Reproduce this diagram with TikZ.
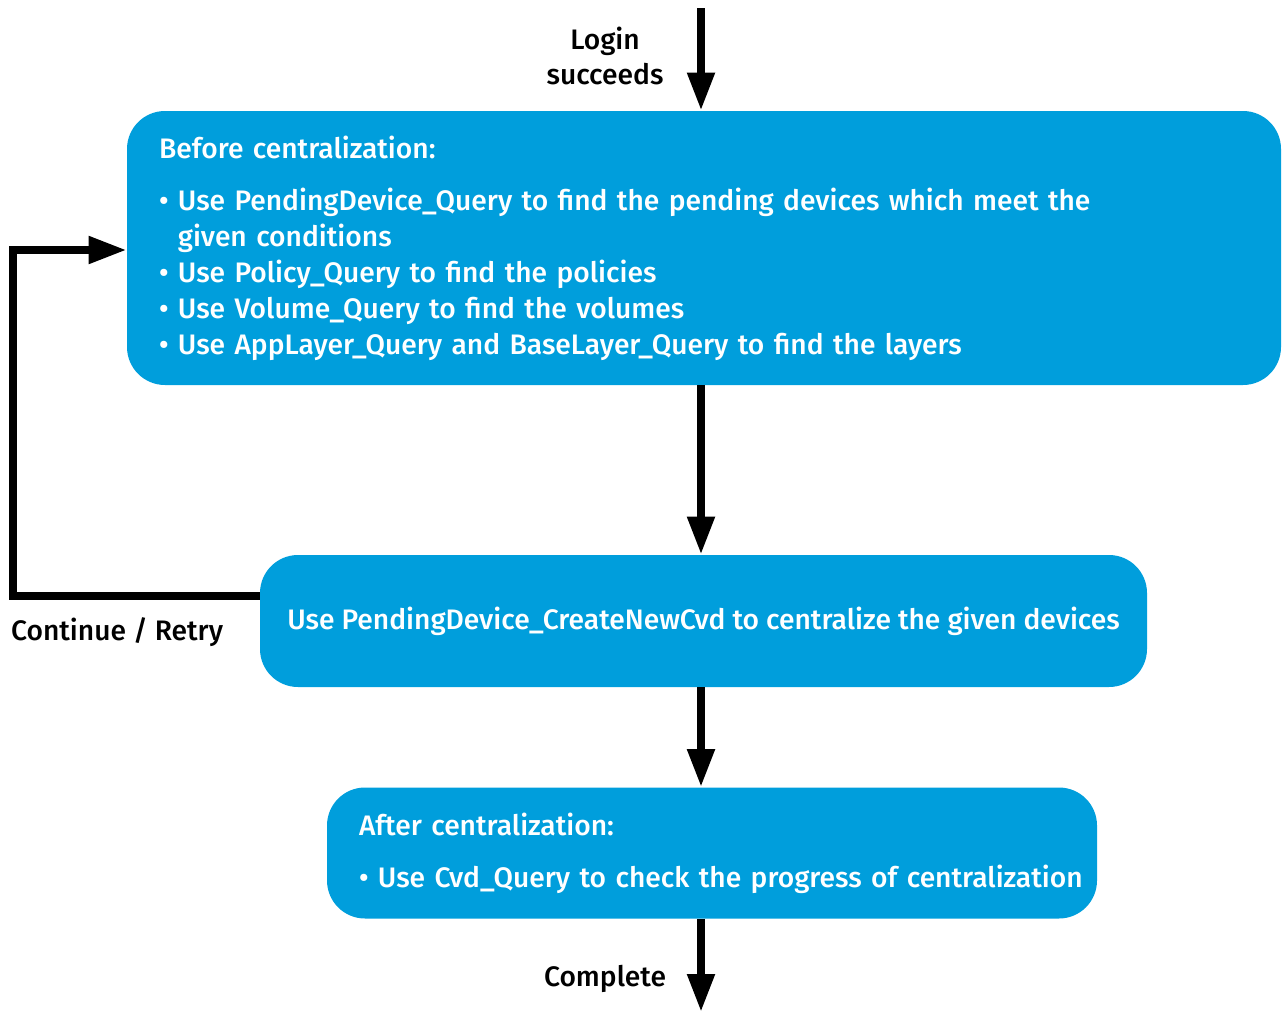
\documentclass[tikz,border=0pt]{standalone}
\usepackage{fontspec}
\IfFontExistsTF{Fira Sans Medium}
  {\setmainfont{Fira Sans}[UprightFont={* Medium}]}
  {\setmainfont{Fira Sans}}
\usetikzlibrary{arrows.meta}
\definecolor{boxblue}{RGB}{0,158,220}
\newcommand{\bul}{\textbullet\ }
\begin{document}
\begin{tikzpicture}[x=0.5pt, y=-0.5pt, >={Triangle[width=13pt,length=19pt]},
    box/.style={fill=boxblue, text=white, rounded corners=19pt, align=left,
        inner xsep=16pt, font=\fontsize{14.1}{18}\selectfont},
    flow/.style={->, line width=4pt},
    lbl/.style={font=\fontsize{14.1}{17.5}\selectfont, align=center}]
    \useasboundingbox (0,0) rectangle (1285,1012);
    \node[box, text width=545pt, minimum height=137pt] (before) at (704,248)
        {Before centralization:\\[8pt]
         \bul Use PendingDevice\_Query to find the pending devices which meet the\\
         \phantom{\bul}given conditions\\
         \bul Use Policy\_Query to find the policies\\
         \bul Use Volume\_Query to find the volumes\\
         \bul Use AppLayer\_Query and BaseLayer\_Query to find the layers};
    \node[box, inner xsep=8pt, minimum width=443.5pt, minimum height=66pt, align=center] (create) at (703.5,621)
        {Use PendingDevice\_CreateNewCvd to centralize the given devices};
    \node[box, text width=353pt, minimum height=65.5pt] (after) at (712,853)
        {After centralization:\\[8pt]
         \mbox{\bul Use Cvd\_Query to check the progress of centralization}};
    \coordinate (start) at (701,8);
    \coordinate (finish) at (701,1012);
    \coordinate (retry) at (13,596);
    \draw[flow] (start) -- (before.north -| start);
    \draw[flow] (before.south -| start) -- (create.north -| start);
    \draw[flow] (create.south -| start) -- (after.north -| start);
    \draw[flow] (after.south -| start) -- (finish);
    \draw[flow] (create.west |- retry) -- (retry) |- ([yshift=-1pt]before.west);
    \node[lbl] (login) at (605,56) {Login\\succeeds};
    \node[lbl, anchor=west] (cont) at (4,632) {Continue / Retry};
    \node[lbl] (done) at (605,979) {Complete};
\end{tikzpicture}
\end{document}
